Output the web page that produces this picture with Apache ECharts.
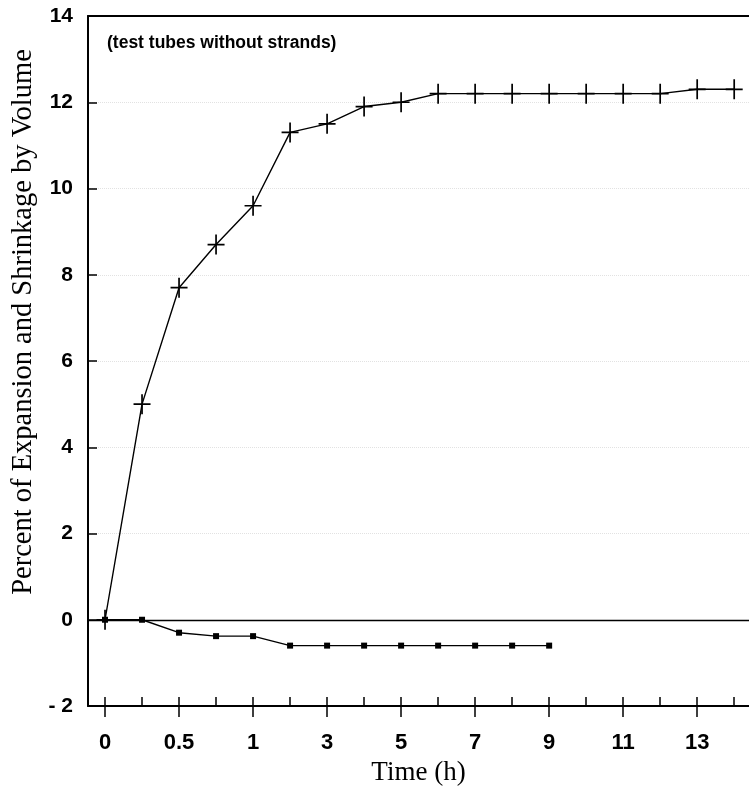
<!DOCTYPE html>
<html>
<head>
<meta charset="utf-8">
<script src="https://cdn.jsdelivr.net/npm/echarts@6/dist/echarts.min.js"></script>
<style>html,body{margin:0;padding:0;background:#fff}#c{width:749px;height:791px}</style>
</head>
<body>
<div id="c"></div>
<script>
// Time categories (h) – equally spaced on the axis
const timeCategories = ['0','0.25','0.5','0.75','1','2','3','4','5','6','7','8','9','10','11','12','13','14'];
// Expansion (+ markers)
const expansion = [0, 5.0, 7.7, 8.7, 9.6, 11.3, 11.5, 11.9, 12.0, 12.2, 12.2, 12.2, 12.2, 12.2, 12.2, 12.2, 12.3, 12.3];
// Shrinkage (square markers)
const shrinkage = [0, 0, -0.3, -0.38, -0.38, -0.6, -0.6, -0.6, -0.6, -0.6, -0.6, -0.6, -0.6];
// Labeled x ticks (category indices) and y ticks
const labeledIdx = [0, 2, 4, 6, 8, 10, 12, 14, 16];
const allIdx = timeCategories.map((_, i) => i);
const yTicks = [-2, 0, 2, 4, 6, 8, 10, 12, 14];

const chart = echarts.init(document.getElementById('c'), null, {renderer: 'canvas'});
const xMin = -0.46, xMax = 17.4;
const crossPath = 'path://M-1.2,-12 H1.2 V-1 H12 V1 H1.2 V12 H-1.2 V1 H-12 V-1 H-1.2 Z';

chart.setOption({
  animation: false,
  grid: {left: 88, right: 0, top: 16, bottom: 85},
  xAxis: [
    {
      type: 'value', min: xMin, max: xMax,
      name: 'Time (h)', nameLocation: 'middle', nameGap: 53,
      nameTextStyle: {fontFamily: 'Liberation Serif', fontSize: 27, color: '#000'},
      axisLine: {show: true, onZero: false, lineStyle: {color: '#000', width: 2}},
      axisTick: {show: true, inside: false, length: 11, customValues: labeledIdx, lineStyle: {color: '#000', width: 1.5}},
      axisLabel: {show: true, customValues: labeledIdx, margin: 26,
        formatter: v => timeCategories[Math.round(v)],
        fontFamily: 'Liberation Sans', fontWeight: 'bold', fontSize: 22, color: '#000'},
      splitLine: {show: false}
    },
    {
      type: 'value', min: xMin, max: xMax, position: 'bottom',
      axisLine: {show: false, onZero: false},
      axisTick: {show: true, inside: true, length: 9, customValues: allIdx, lineStyle: {color: '#000', width: 1.5}},
      axisLabel: {show: false},
      splitLine: {show: false}
    },
    {
      type: 'value', min: xMin, max: xMax, position: 'top',
      axisLine: {show: true, onZero: false, lineStyle: {color: '#000', width: 2}},
      axisTick: {show: false}, axisLabel: {show: false}, splitLine: {show: false}
    }
  ],
  yAxis: {
    type: 'value', min: -2, max: 14, interval: 2,
    name: 'Percent of Expansion and Shrinkage by Volume', nameLocation: 'middle', nameGap: 48,
    nameTextStyle: {fontFamily: 'Liberation Serif', fontSize: 28.5, color: '#000', padding: [0, 0, 0, 78]},
    axisLine: {show: true, onZero: false, lineStyle: {color: '#000', width: 2}},
    axisTick: {show: true, inside: true, length: 9, lineStyle: {color: '#000', width: 1.5}},
    axisLabel: {margin: 15, fontFamily: 'Liberation Sans', fontWeight: 'bold', fontSize: 21, color: '#000',
      formatter: v => yTicks.includes(v) ? String(v).replace('-', '- ') : ''},
    splitLine: {show: true, lineStyle: {color: '#e2e2e2', type: 'dotted', width: 1}}
  },
  graphic: [
    {type: 'text', left: 107, top: 34,
      style: {text: '(test tubes without strands)', fontFamily: 'Liberation Sans', fontWeight: 'bold', fontSize: 17.5, fill: '#000', letterSpacing: 1.4}}
  ],
  series: [
    {
      type: 'line', xAxisIndex: 0,
      data: expansion.map((v, i) => [i, v]),
      symbol: crossPath, symbolSize: [17, 20], symbolKeepAspect: false,
      itemStyle: {color: '#000'},
      lineStyle: {color: '#000', width: 1.4},
      markLine: {
        silent: true, symbol: 'none', label: {show: false},
        lineStyle: {color: '#000', width: 1.3, type: 'solid'},
        data: [{yAxis: 0}]
      },
      z: 3
    },
    {
      type: 'line', xAxisIndex: 0,
      data: shrinkage.map((v, i) => [i, v]),
      symbol: 'rect', symbolSize: 6,
      itemStyle: {color: '#000'},
      lineStyle: {color: '#000', width: 1.4},
      z: 4
    }
  ]
});
</script>
</body>
</html>
